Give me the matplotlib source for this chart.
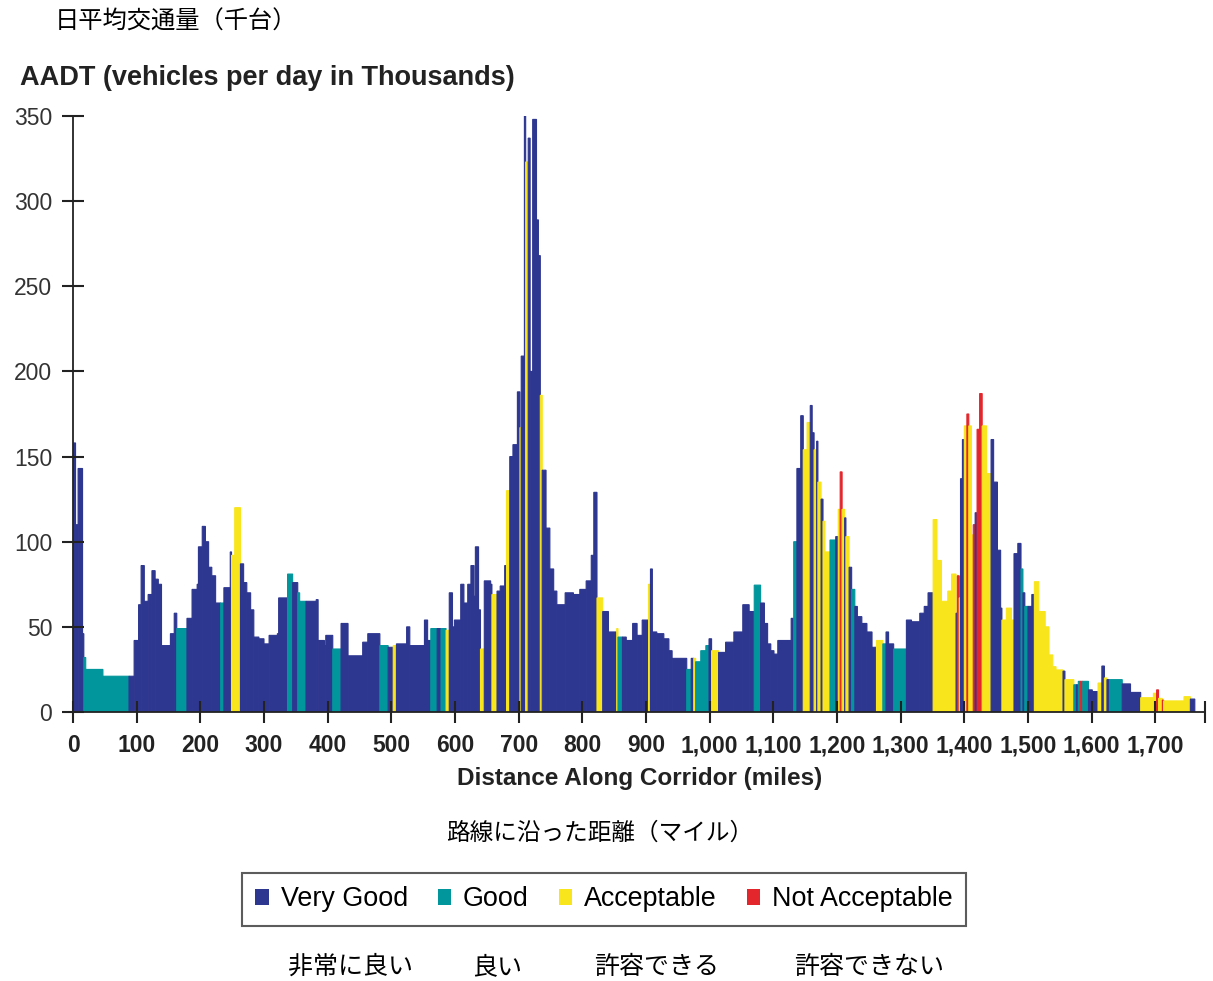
import numpy as np
import matplotlib
matplotlib.use('Agg')
from matplotlib import pyplot as plt
from matplotlib.patches import Patch

plt.rcParams['font.family'] = ['Liberation Sans', 'Noto Sans CJK JP', 'DejaVu Sans']
JP = ['Noto Sans CJK JP', 'DejaVu Sans']

# segment start (miles), AADT (thousands), rating: V=Very Good, G=Good, A=Acceptable, N=Not Acceptable
seg_start = [0, 4, 8, 15, 17, 20, 47, 88, 96, 103, 107, 112, 118, 124, 129, 134, 139, 153, 159, 163,
             179, 187, 195, 197, 203, 208, 213, 218, 224, 232, 237, 247, 249, 254, 263, 268, 273, 279, 284, 292,
             300, 308, 321, 323, 337, 345, 353, 356, 366, 382, 385, 395, 397, 408, 421, 432, 455, 463, 482, 495,
             503, 508, 524, 529, 552, 557, 562, 572, 578, 586, 591, 596, 599, 609, 614, 620, 625, 630, 632, 637,
             640, 646, 656, 658, 666, 671, 678, 681, 686, 691, 698, 702, 704, 709, 711, 715, 718, 722, 728, 731,
             734, 737, 743, 749, 755, 760, 773, 786, 796, 806, 814, 818, 823, 832, 841, 854, 856, 863, 869, 879,
             886, 894, 904, 907, 910, 917, 928, 936, 941, 964, 971, 975, 978, 986, 994, 999, 1003, 1014, 1025, 1038,
             1052, 1062, 1070, 1080, 1086, 1091, 1096, 1101, 1107, 1128, 1132, 1137, 1143, 1147, 1153, 1158, 1161, 1164, 1168, 1170,
             1175, 1178, 1181, 1189, 1198, 1202, 1205, 1208, 1212, 1214, 1219, 1223, 1228, 1232, 1239, 1247, 1255, 1262, 1272, 1277,
             1281, 1289, 1309, 1317, 1330, 1337, 1343, 1351, 1357, 1364, 1374, 1380, 1387, 1389, 1392, 1394, 1397, 1400, 1404, 1407,
             1411, 1414, 1417, 1420, 1424, 1428, 1431, 1435, 1442, 1446, 1452, 1457, 1459, 1466, 1474, 1478, 1484, 1489, 1492, 1495,
             1500, 1506, 1510, 1517, 1527, 1533, 1539, 1544, 1555, 1558, 1572, 1576, 1579, 1582, 1586, 1595, 1601, 1610, 1616, 1620,
             1624, 1628, 1648, 1661, 1677, 1697, 1702, 1705, 1711, 1713, 1745, 1755]
aadt = [158, 110, 143, 46, 32, 25, 21, 21, 42, 63, 86, 65, 69, 83, 78, 75, 39, 46, 58, 49,
        55, 72, 75, 97, 109, 100, 85, 80, 64, 64, 73, 94, 92, 120, 87, 76, 70, 60, 44, 43,
        40, 45, 46, 67, 81, 76, 70, 65, 65, 66, 42, 39, 45, 37, 52, 33, 41, 46, 39, 38,
        39, 40, 50, 39, 54, 42, 49, 49, 49, 48, 70, 50, 54, 75, 64, 75, 86, 68, 97, 60,
        37, 77, 75, 69, 71, 74, 86, 130, 150, 157, 188, 167, 209, 350, 323, 337, 200, 348, 289, 268,
        186, 142, 108, 84, 71, 63, 70, 69, 72, 77, 92, 129, 67, 59, 47, 49, 44, 44, 42, 52,
        45, 54, 75, 84, 47, 46, 43, 36, 31.5, 25, 31.5, 31.5, 29.5, 36, 39, 43, 36, 35, 41, 47,
        63, 59, 74.5, 64, 52, 40, 36, 34, 42, 55, 100, 143, 174, 154, 170, 180, 164, 154, 159, 135,
        125, 112, 94, 101, 103, 119, 141, 119, 114, 103, 85, 72, 62, 56, 52, 47, 38, 42, 40, 47,
        40, 37, 54, 53, 58, 62, 70, 113, 89, 65, 71, 81, 58, 80, 67, 137, 160, 168, 175, 168,
        104, 110, 117, 166, 187, 168, 168, 140, 160, 135, 95, 61, 54, 61, 54, 93, 99, 84, 70, 62,
        62, 69, 76.5, 59, 50, 33.5, 26.6, 24.7, 24, 19, 16, 16, 18, 18, 18, 13, 12, 17, 27, 20,
        19, 19, 16.5, 11.5, 8.4, 11, 13, 8, 7, 6.5, 9, 7.6]
rating = list('VVVVGGGVVVVVVVVVVVVG'
              'VVVVVVVVVGVVAAVVVVVV'
              'VVVVGVGGVVVVVGVVVVGV'
              'AVVVVVGVGAVVVVVVVVVV'
              'AVVAVVVAVVVAVVAVVVVV'
              'AVVVVVVVVVVVAVVAGVVV'
              'VVAVVVVVVGVAGGGVAVVV'
              'VVGVVVVVVVGVVAAVVAVA'
              'VAAGVANAVAVGVVVVVAGV'
              'VGVVVVVAAAAAVNAVVANA'
              'ANVNNAAAVVVVAAAVVGVG'
              'VVAAAAAAVAGVGNGVVAVA'
              'VGVVAANANAAV')
corridor_end = 1762

rating_names = ['Very Good', 'Good', 'Acceptable', 'Not Acceptable']
rating_jp = ['非常に良い', '良い', '許容できる', '許容できない']
rating_codes = ['V', 'G', 'A', 'N']
palette = {'V': '#2e3790', 'G': '#00969b', 'A': '#f9e51c', 'N': '#e3262b'}

x_ticks = list(range(0, 1701, 100))
y_ticks = list(range(0, 351, 50))

fig = plt.figure(figsize=(12.13, 9.81), dpi=100)
ax = fig.add_axes([73/1213, 1-712/981, (1205-73)/1213, (712-116)/981])

widths = np.diff(np.append(seg_start, corridor_end))
cols = [palette[r] for r in rating]
bars = ax.bar(seg_start, aadt, width=widths, align='edge', color=cols, edgecolor=cols, linewidth=0.8)
for b in bars:
    b.set_snap(False)

ax.set_xlim(0, 1778)
ax.set_ylim(0, 350)
for s in ['top', 'right']:
    ax.spines[s].set_visible(False)
for s in ['left', 'bottom']:
    ax.spines[s].set_linewidth(1.3)
    ax.spines[s].set_color('#222222')

ax.set_xticks(x_ticks + [1778], labels=[f'{v:,}' for v in x_ticks] + [''])
ax.set_yticks(y_ticks)
ax.tick_params(direction='inout', length=16, width=1.5, color='#222222')
ax.tick_params(axis='x', pad=8, labelsize=16.5)
ax.tick_params(axis='y', pad=7, labelsize=16.5, labelcolor='#333333')
for t in ax.get_xticklabels():
    t.set_fontweight('bold')
    t.set_color('#222222')

fig.text(55/1213, 1-22/981, '日平均交通量（千台）', family=JP, fontsize=17.5, va='center')
fig.text(20/1213, 1-78/981, 'AADT (vehicles per day in Thousands)', fontsize=19.5, fontweight='bold',
         va='center', color='#222222')
fig.text(640/1213, 1-779/981, 'Distance Along Corridor (miles)', fontsize=17.5, fontweight='bold',
         ha='center', va='center', color='#222222')
fig.text(600/1213, 1-833/981, '路線に沿った距離（マイル）', family=JP, fontsize=17, ha='center', va='center')

handles = [Patch(facecolor=palette[c], edgecolor='none') for c in rating_codes]
leg = fig.legend(handles, rating_names, loc='center', bbox_to_anchor=(604/1213, 1-899.5/981), ncol=4,
                 fontsize=19.4, frameon=True, fancybox=False, edgecolor='#333333',
                 handlelength=0.5, handleheight=0.5, handletextpad=0.45, columnspacing=1.1,
                 borderpad=0.5)
leg.get_frame().set_linewidth(1.5)

for name, xc in zip(rating_jp, [351, 497, 657, 869]):
    fig.text(xc/1213, 1-967/981, name, family=JP, fontsize=18, ha='center', va='center')

fig.savefig('out.png', dpi=100)
